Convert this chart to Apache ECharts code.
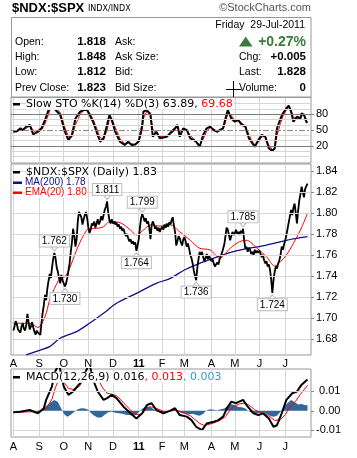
<!DOCTYPE html>
<html><head><meta charset="utf-8">
<script src="https://cdn.jsdelivr.net/npm/echarts@6/dist/echarts.min.js"></script>
<style>html,body{margin:0;padding:0;background:#fff}#c{width:357px;height:458px}</style>
</head><body><div id="c"></div>
<script>
// ---------- DATA ----------
const leadPad = ['2010-07-29', '2010-07-30'];
const trailPad = ['2011-08-01', '2011-08-02', '2011-08-03'];
const holidays = ['2010-09-06','2010-11-25','2010-12-24','2011-01-17','2011-02-21','2011-04-22','2011-05-30','2011-07-04'];
const monthLabels = ['A','S','O','N','D','11','F','M','A','M','J','J'];

// daily close of $NDX:$SPX, 2-Aug-2010 .. 29-Jul-2011
const priceAug = [1.688,1.692,1.697,1.694,1.689,1.690,1.686,1.692,1.695,1.690,1.688,1.693,1.704,1.696,1.689,1.692,1.696,1.691,1.687,1.684,1.688,1.686];
const priceSep = [1.687,1.684,1.695,1.705,1.712,1.722,1.717,1.728,1.735,1.742,1.738,1.748,1.756,1.762,1.757,1.748,1.744,1.738,1.733,1.741,1.736];
const priceOct = [1.737,1.730,1.733,1.738,1.745,1.752,1.763,1.772,1.785,1.778,1.768,1.775,1.792,1.801,1.802,1.796,1.789,1.794,1.798,1.801,1.795];
const priceNov = [1.786,1.781,1.784,1.790,1.788,1.792,1.786,1.790,1.794,1.789,1.792,1.797,1.793,1.798,1.803,1.806,1.811,1.800,1.793,1.790,1.794];
const priceDec = [1.790,1.792,1.789,1.791,1.787,1.789,1.785,1.787,1.783,1.785,1.781,1.778,1.780,1.776,1.773,1.775,1.771,1.773,1.770,1.772,1.764,1.769];
const priceJan = [1.775,1.786,1.795,1.799,1.796,1.792,1.795,1.790,1.792,1.786,1.775,1.788,1.792,1.789,1.785,1.787,1.783,1.786,1.782,1.785];
const priceFeb = [1.787,1.784,1.789,1.786,1.790,1.787,1.791,1.789,1.793,1.796,1.788,1.782,1.769,1.773,1.778,1.776,1.772,1.769,1.775];
const priceMar = [1.777,1.773,1.768,1.771,1.766,1.760,1.757,1.752,1.745,1.740,1.736,1.748,1.756,1.763,1.760,1.763,1.758,1.754,1.757,1.761,1.756,1.759,1.757];
const priceApr = [1.754,1.756,1.752,1.749,1.748,1.753,1.751,1.756,1.759,1.762,1.766,1.770,1.778,1.786,1.784,1.779,1.774,1.778,1.782,1.779];
const priceMay = [1.781,1.784,1.780,1.782,1.779,1.783,1.781,1.785,1.774,1.766,1.768,1.763,1.767,1.765,1.761,1.763,1.760,1.765,1.762,1.764,1.762];
const priceJun = [1.764,1.761,1.758,1.760,1.755,1.752,1.754,1.749,1.751,1.746,1.737,1.724,1.736,1.744,1.749,1.747,1.752,1.755,1.760,1.768,1.765,1.770];
const priceJul = [1.774,1.779,1.785,1.791,1.797,1.803,1.798,1.805,1.809,1.800,1.790,1.802,1.812,1.818,1.825,1.820,1.815,1.823,1.824,1.828];

// [trading-day index, value]
const ma200 = [[11,1.6648],[23,1.6695],[31,1.6727],[40,1.6807],[54,1.687],[65,1.695],[77,1.7045],[88,1.714],[105,1.7235],[122,1.733],[134,1.7378],[146,1.7457],[159,1.752],[187,1.763],[216,1.7695],[233,1.774],[251,1.7774]];
const ema20 = [[0,1.695],[14,1.695],[21,1.691],[27,1.7012],[31,1.7171],[35,1.728],[40,1.7378],[44,1.7393],[48,1.7473],[54,1.7648],[60,1.779],[65,1.7854],[71,1.7854],[77,1.787],[82,1.7917],[91,1.7908],[100,1.7838],[105,1.779],[111,1.7838],[117,1.7886],[125,1.7876],[134,1.7886],[142,1.782],[151,1.774],[159,1.7664],[168,1.7648],[176,1.7568],[185,1.7664],[193,1.7727],[199,1.774],[208,1.7664],[216,1.7584],[223,1.7495],[228,1.7536],[233,1.76],[239,1.7711],[245,1.7838],[251,1.7997]];
const annotations = [[35,1.762,'peak'],[44,1.730,'trough'],[80,1.811,'peak'],[105,1.764,'trough'],[110,1.799,'peak'],[156,1.736,'trough'],[196,1.785,'peak'],[221,1.724,'trough']];

const stoK = [[0,47],[3,48],[6,53.5],[8,50],[11,56.6],[14,60],[17,42],[20,46],[24,53.5],[27,69],[30,88],[32,97],[34,98],[36,88],[40,79],[44,47],[47,31],[50,41],[53,72],[57,85],[60,88],[63,88],[65,79],[68,66],[71,47],[74,28],[77,34.5],[80,60],[82,79],[84,69],[87,47],[91,28],[95,22],[98,28],[101,22],[104,23],[107,29],[110,60],[111,85],[114,88],[117,79],[119,37.6],[122,47],[125,34.5],[131,37.6],[135,47],[138,53.5],[140,60],[142,37.6],[145,53.5],[148,50],[151,34.5],[154,31],[156,28],[159,18.6],[162,41],[165,53.5],[168,56.6],[171,50],[174,47],[176,50],[179,53.5],[181,72],[183,88],[186,72],[189,66],[192,69],[195,60],[198,56.6],[201,34.5],[203,28],[206,18.6],[209,31],[212,41],[215,37.6],[218,15.6],[221,10.5],[223,15.6],[225,53.5],[228,72],[230,82],[233,91.5],[235,96.5],[237,85],[239,66],[242,75.5],[245,72],[246,82],[248,79],[250,66],[251,63.89]];
const stoD = [[0,48],[3,47],[6,51],[8,51],[11,53],[14,58],[17,50],[20,44],[24,50],[27,62],[30,80],[32,92],[34,96],[36,93],[40,83],[44,55],[47,38],[50,37],[53,60],[57,80],[60,87],[63,88],[65,83],[68,71],[71,54],[74,36],[77,32],[80,50],[82,70],[84,72],[87,55],[91,34],[95,24],[98,26],[101,24],[104,23],[107,27],[110,50],[111,72],[114,86],[117,83],[119,52],[122,44],[125,38],[131,37],[135,44],[138,51],[140,57],[142,46],[145,49],[148,51],[151,40],[154,33],[156,29],[159,22],[162,33],[165,48],[168,55],[171,52],[174,48],[176,49],[179,52],[181,65],[183,80],[186,78],[189,68],[192,68],[195,63],[198,58],[201,42],[203,32],[206,22],[209,27],[212,37],[215,38],[218,22],[221,13],[223,14],[225,40],[228,63],[230,76],[233,88],[235,94],[237,89],[239,74],[242,72],[245,73],[246,78],[248,79],[250,71],[251,69.68]];
const stoTicks = [20, 50, 80];

const macd = [[0,-0.0008],[6,-0.0005],[14,0.0004],[21,-0.0013],[26,0.0013],[28,0.0056],[33,0.0125],[35,0.0194],[39,0.024],[43,0.0125],[47,0.0082],[51,0.0099],[57,0.0142],[61,0.0194],[65,0.024],[68,0.016],[72,0.0099],[77,0.0056],[80,0.0065],[84,0.0082],[88,0.0065],[94,0.0021],[100,-0.0013],[105,-0.0039],[110,-0.0013],[114,0.003],[118,0.0039],[122,0.0004],[128,-0.0013],[134,0.0001],[138,0.0013],[142,-0.0022],[148,-0.003],[152,-0.0048],[156,-0.0082],[161,-0.0099],[165,-0.0065],[171,-0.0056],[175,-0.0048],[179,-0.003],[183,0.0021],[186,0.0047],[190,0.0039],[196,0.0056],[200,0.0021],[205,-0.0013],[209,-0.0022],[213,-0.0013],[218,-0.0039],[222,-0.0082],[225,-0.0074],[229,-0.0013],[233,0.0056],[238,0.009],[242,0.0099],[246,0.0134],[251,0.016]];
const macdSignal = [[0,-0.0008],[10,-0.0006],[20,-0.0004],[25,0.0001],[28,0.001],[33,0.006],[36,0.012],[40,0.018],[44,0.014],[47,0.0115],[51,0.011],[55,0.012],[57,0.013],[61,0.018],[65,0.0195],[68,0.019],[72,0.0165],[76,0.012],[80,0.009],[84,0.0085],[88,0.0078],[91,0.006],[95,0.0035],[99,0.001],[103,-0.0015],[108,-0.002],[112,0.0],[116,0.002],[120,0.0018],[125,0.0005],[129,-0.0005],[134,-0.0002],[138,0.0005],[142,-0.0002],[146,-0.0012],[151,-0.0025],[155,-0.0045],[159,-0.0065],[163,-0.0075],[168,-0.0068],[172,-0.006],[176,-0.005],[181,-0.003],[185,0.0005],[189,0.0025],[193,0.0035],[198,0.004],[202,0.0025],[206,0.0005],[211,-0.001],[215,-0.0015],[219,-0.003],[223,-0.005],[228,-0.0045],[232,-0.002],[236,0.002],[241,0.005],[245,0.0085],[251,0.013]];
const macdHist = [[0,0],[10,0.0001],[20,-0.0004],[24,-0.0002],[27,0.002],[31,0.004],[35,0.0055],[38,0.0045],[41,0.001],[43,-0.0015],[46,-0.003],[49,-0.002],[52,-0.0005],[55,0.0008],[58,0.0013],[61,0.0012],[64,0.0005],[66,-0.001],[69,-0.0025],[72,-0.0035],[75,-0.0035],[78,-0.002],[81,-0.0008],[84,-0.0003],[87,-0.001],[90,-0.0012],[93,-0.0015],[96,-0.002],[99,-0.0022],[102,-0.0025],[105,-0.002],[108,0.0],[111,0.0015],[114,0.0022],[117,0.0018],[120,0.0008],[123,-0.0002],[126,-0.0008],[129,-0.0006],[132,0.0],[135,0.0004],[138,0.0005],[141,-0.0005],[144,-0.0012],[147,-0.0015],[150,-0.0018],[153,-0.0015],[156,-0.0022],[159,-0.0025],[162,-0.0015],[165,0.0003],[168,0.0008],[171,0.0006],[174,0.0002],[177,0.0008],[180,0.0012],[183,0.0025],[186,0.0035],[189,0.0028],[192,0.002],[195,0.0018],[198,0.0012],[201,-0.0002],[204,-0.0012],[207,-0.0015],[210,-0.0012],[213,-0.0008],[216,-0.0015],[219,-0.0025],[222,-0.003],[225,-0.0025],[228,-0.0005],[231,0.002],[234,0.004],[237,0.0055],[240,0.0045],[243,0.0032],[246,0.0035],[249,0.0028],[251,0.003]];
const macdTicks = [-0.01, 0, 0.01];
const priceTicks = [1.68, 1.70, 1.72, 1.74, 1.76, 1.78, 1.80, 1.82, 1.84];

const infoLeftLabels = ['Open:', 'High:', 'Low:', 'Prev Close:'];
const infoLeftValues = ['1.818', '1.848', '1.812', '1.823'];
const infoMidLabels = ['Ask:', 'Ask Size:', 'Bid:', 'Bid Size:'];
const infoRightLabels = ['', 'Chg:', 'Last:', 'Volume:'];
const infoRightValues = ['+0.27%', '+0.005', '1.828', '0'];
const infoDate = 'Friday  29-Jul-2011';

// ---------- BUILD ----------
function tradingDays(s, e) {
  const out = []; const d = new Date(s + 'T00:00:00Z'); const end = new Date(e + 'T00:00:00Z');
  while (d <= end) {
    const iso = d.toISOString().slice(0, 10); const wd = d.getUTCDay();
    if (wd !== 0 && wd !== 6 && holidays.indexOf(iso) < 0) out.push(iso);
    d.setUTCDate(d.getUTCDate() + 1);
  }
  return out;
}
const days = tradingDays('2010-08-02', '2011-07-29');
const LEAD = leadPad.length;
const categories = leadPad.concat(days, trailPad);
const price = [].concat(priceAug, priceSep, priceOct, priceNov, priceDec, priceJan, priceFeb, priceMar, priceApr, priceMay, priceJun, priceJul);
const priceData = leadPad.map(() => null).concat(price, trailPad.map(() => null));
const sh = arr => arr.map(p => [p[0] + LEAD, p[1]]);

const monthStarts = [];
for (let i = LEAD; i < LEAD + days.length; i++) {
  if (i === LEAD || categories[i].slice(5, 7) !== categories[i - 1].slice(5, 7)) monthStarts.push(i);
}
const isMonthStart = (idx) => monthStarts.indexOf(idx) >= 0;
const monthFmt = (v, idx) => { const k = monthStarts.indexOf(idx); const l = monthLabels[k] || ''; return l === '11' ? '{b|11}' : l; };

const AX = '"Liberation Sans", Arial, sans-serif';
const LEG = '"DejaVu Sans", Verdana, sans-serif';
const GRIDC = '#d6d6d6';

function xAxisFor(g, show, margin) {
  return {
    type: 'category', gridIndex: g, data: categories, boundaryGap: false,
    axisLine: { show: false }, axisTick: { show: false },
    axisLabel: { show: show, interval: isMonthStart, formatter: monthFmt, margin: margin, fontFamily: AX, fontSize: 11, color: '#000',
      rich: { b: { fontWeight: 'bold', fontSize: 11, fontFamily: AX, color: '#000' } } },
    splitLine: { show: true, interval: isMonthStart, lineStyle: { color: GRIDC, width: 1 } }
  };
}
function yAxisFor(g, min, max, ticks, fmt) {
  return {
    type: 'value', gridIndex: g, position: 'right', min: min, max: max, scale: true,
    axisLine: { show: false }, splitLine: { show: false },
    axisTick: { show: true, length: 3, customValues: ticks, lineStyle: { color: '#888' } },
    axisLabel: { customValues: ticks, margin: 5, fontFamily: AX, fontSize: 11, color: '#000', formatter: fmt }
  };
}
const hLines = (vals, color, type) => vals.map(v => ({ yAxis: v, lineStyle: { color: color, width: 1, type: type || 'solid' } }));
const mlBase = { silent: true, symbol: ['none', 'none'], label: { show: false }, animation: false };

const annData = annotations.map(a => {
  const peak = a[2] === 'peak';
  return {
    coord: [a[0] + LEAD, a[1]], value: a[1],
    symbol: 'triangle', symbolSize: [7, 4], symbolRotate: peak ? 180 : 0, symbolOffset: [0, peak ? -4 : 4],
    label: { position: peak ? 'top' : 'bottom', distance: 0 }
  };
});

const chart = echarts.init(document.getElementById('c'), null, { renderer: 'canvas', width: 357, height: 458 });

function txt(x, y, text, extra) {
  return { type: 'text', x: x, y: y, silent: true, z: 100,
    style: Object.assign({ text: text, font: '10.5px ' + AX, fill: '#000', align: 'left', verticalAlign: 'middle' }, extra || {}) };
}
const rs = (color) => ({ fill: color, fontSize: 11, fontFamily: LEG });
const rowsY = [42, 57, 72, 88];
const graphics = [
  txt(12, 8, '$NDX:$SPX', { font: 'bold 13px ' + AX }),
  txt(88, 8.5, 'INDX/INDX', { font: '8px "DejaVu Sans", sans-serif' }),
  txt(311, 8, '\u00a9StockCharts.com', { font: '11px ' + AX, fill: '#555', align: 'right' }),
  { type: 'rect', z: 100, silent: true, shape: { x: 11.5, y: 17.5, width: 299.5, height: 80 }, style: { fill: 'none', stroke: '#999', lineWidth: 1 } },
  txt(305, 25, infoDate, { align: 'right' }),
  { type: 'polygon', z: 100, silent: true, shape: { points: [[239, 46.5], [252.5, 46.5], [245.7, 36.5]] }, style: { fill: '#3b7a3b' } },
  txt(306, 42, infoRightValues[0], { font: 'bold 14px ' + AX, fill: '#3b7a3b', align: 'right' }),
  { type: 'line', z: 100, silent: true, shape: { x1: 233.5, y1: 81, x2: 233.5, y2: 97 }, style: { stroke: '#000', lineWidth: 1 } },
  { type: 'line', z: 100, silent: true, shape: { x1: 226, y1: 89.5, x2: 241, y2: 89.5 }, style: { stroke: '#000', lineWidth: 1 } },
  // legends
  { type: 'rect', z: 101, silent: true, shape: { x: 13, y: 103, width: 7, height: 2.5 }, style: { fill: '#000' } },
  txt(26, 104, '{k|Slow STO %K(14) %D(3) 63.89, }{d|69.68}', { backgroundColor: '#fff', rich: { k: rs('#000'), d: rs('#f00') } }),
  { type: 'rect', z: 101, silent: true, shape: { x: 13, y: 171, width: 7, height: 2.5 }, style: { fill: '#000' } },
  txt(26, 172.3, '$NDX:$SPX (Daily) 1.83', { font: '11px ' + LEG, backgroundColor: '#fff' }),
  { type: 'rect', z: 101, silent: true, shape: { x: 13, y: 181.5, width: 9, height: 2.5 }, style: { fill: '#10108a' } },
  txt(25, 182.7, 'MA(200) 1.78', { font: '10px ' + AX, fill: '#10108a', backgroundColor: '#fff' }),
  { type: 'rect', z: 101, silent: true, shape: { x: 13, y: 191.5, width: 9, height: 2.5 }, style: { fill: '#f00' } },
  txt(25, 192.7, 'EMA(20) 1.80', { font: '10px ' + AX, fill: '#f00', backgroundColor: '#fff' }),
  { type: 'rect', z: 101, silent: true, shape: { x: 13, y: 376, width: 7, height: 2.5 }, style: { fill: '#000' } },
  txt(26, 377.3, '{k|MACD(12,26,9) 0.016}{r|, 0.013}{b|, 0.003}', { backgroundColor: '#fff', rich: { k: rs('#000'), r: rs('#f00'), b: rs('#3399cc') } })
];
rowsY.forEach((y, i) => {
  graphics.push(txt(15, y, infoLeftLabels[i]));
  graphics.push(txt(106, y, infoLeftValues[i], { font: 'bold 11.5px ' + AX, align: 'right' }));
  graphics.push(txt(115, y, infoMidLabels[i]));
  if (i > 0) {
    graphics.push(txt(239, y, infoRightLabels[i]));
    graphics.push(txt(306, y, infoRightValues[i], { font: 'bold 11.5px ' + AX, align: 'right' }));
  }
});

const option = {
  animation: false,
  backgroundColor: '#fff',
  grid: [
    { left: 11, top: 97, width: 300, height: 66, show: true, borderColor: '#999', borderWidth: 1, backgroundColor: 'transparent' },
    { left: 11, top: 164, width: 300, height: 191, show: true, borderColor: '#999', borderWidth: 1, backgroundColor: 'transparent' },
    { left: 11, top: 369, width: 300, height: 68, show: true, borderColor: '#999', borderWidth: 1, backgroundColor: 'transparent' }
  ],
  xAxis: [xAxisFor(0, false, 2), xAxisFor(1, true, 3), xAxisFor(2, true, 4)],
  yAxis: [
    yAxisFor(0, -12.2, 112.7, stoTicks, v => String(Math.round(v))),
    yAxisFor(1, 1.66476, 1.84667, priceTicks, v => v.toFixed(2)),
    yAxisFor(2, -0.01344, 0.02144, macdTicks, v => (v < -1e-9 ? '' : ' ') + (Math.abs(v) < 1e-9 ? '0.00' : v.toFixed(2)))
  ],
  graphic: graphics,
  series: [
    { type: 'line', name: '%D', xAxisIndex: 0, yAxisIndex: 0, z: 2, data: sh(stoD), showSymbol: false, symbol: 'none',
      lineStyle: { color: '#f00', width: 1 },
      markLine: Object.assign({}, mlBase, { data: hLines([0, 10, 30, 40, 60, 70, 90, 100], GRIDC).concat(hLines([20, 80], '#7a7a7a'), [{ yAxis: 50, lineStyle: { color: '#888', width: 1, type: [6, 2, 2, 2] } }]) }) },
    { type: 'line', name: '%K', xAxisIndex: 0, yAxisIndex: 0, z: 3, data: sh(stoK), showSymbol: false, symbol: 'none',
      lineStyle: { color: '#000', width: 2 } },
    { type: 'line', name: 'MA200', xAxisIndex: 1, yAxisIndex: 1, z: 2, data: sh(ma200), showSymbol: false, symbol: 'none', smooth: 0.3,
      lineStyle: { color: '#10108a', width: 1.3 },
      markLine: Object.assign({}, mlBase, { data: hLines(priceTicks, GRIDC) }) },
    { type: 'line', name: 'EMA20', xAxisIndex: 1, yAxisIndex: 1, z: 3, data: sh(ema20), showSymbol: false, symbol: 'none', smooth: 0.3,
      lineStyle: { color: '#f00', width: 1 } },
    { type: 'line', name: 'Price', xAxisIndex: 1, yAxisIndex: 1, z: 4, data: priceData, showSymbol: false, symbol: 'none',
      lineStyle: { color: '#000', width: 1.8 },
      markPoint: { silent: true, animation: false,
        itemStyle: { color: '#fff', borderColor: '#bdbdbd', borderWidth: 1 },
        label: { show: true, formatter: p => p.value.toFixed(3), color: '#000', fontFamily: AX, fontSize: 10,
          backgroundColor: '#fff', borderColor: '#bdbdbd', borderWidth: 1, padding: [1, 2, 0, 2] },
        data: annData } },
    { type: 'line', name: 'Hist', xAxisIndex: 2, yAxisIndex: 2, z: 1, data: sh(macdHist), showSymbol: false, symbol: 'none',
      lineStyle: { width: 0 }, areaStyle: { color: '#336699', opacity: 1, origin: 0 },
      markLine: Object.assign({}, mlBase, { data: hLines([-0.01, 0.01], GRIDC) }) },
    { type: 'line', name: 'Signal', xAxisIndex: 2, yAxisIndex: 2, z: 2, data: sh(macdSignal), showSymbol: false, symbol: 'none',
      lineStyle: { color: '#f00', width: 1 } },
    { type: 'line', name: 'MACD', xAxisIndex: 2, yAxisIndex: 2, z: 3, data: sh(macd), showSymbol: false, symbol: 'none',
      lineStyle: { color: '#000', width: 2 } }
  ]
};
chart.setOption(option);
</script></body></html>
